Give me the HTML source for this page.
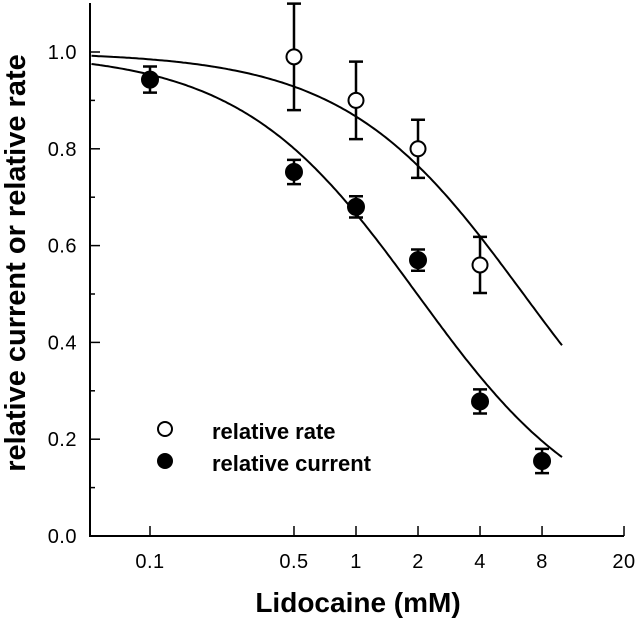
<!DOCTYPE html>
<html><head><meta charset="utf-8"><style>
body{margin:0;background:#fff}
svg text{font-family:"Liberation Sans",Arial,sans-serif;fill:#000}
</style></head><body>
<svg id="chart" width="640" height="623" xmlns="http://www.w3.org/2000/svg">
<g id="axes"></g><g id="curves"></g><g id="marks"></g>
<text transform="translate(25,263) rotate(-90)" text-anchor="middle" font-size="29" font-weight="bold">relative current or relative rate</text>
<text x="358" y="612" text-anchor="middle" font-size="28" font-weight="bold">Lidocaine (mM)</text>
<g>
<circle cx="165" cy="429" r="7" fill="#fff" stroke="#000" stroke-width="2"/>
<text x="212" y="439" font-size="22" font-weight="bold">relative rate</text>
<circle cx="165" cy="461" r="8" fill="#000"/>
<text x="212" y="471" font-size="22" font-weight="bold">relative current</text>
</g>
</svg>
<script>
const xTicks=[0.1,0.5,1,2,4,8,20];
const xTickLabels=["0.1","0.5","1","2","4","8","20"];
const yTicks=[0,0.2,0.4,0.6,0.8,1.0];
const yTickLabels=["0.0","0.2","0.4","0.6","0.8","1.0"];
const rateX=[0.5,1,2,4];
const rateY=[0.99,0.90,0.80,0.56];
const rateErr=[0.11,0.08,0.06,0.058];
const curX=[0.1,0.5,1,2,4,8];
const curY=[0.943,0.752,0.68,0.57,0.278,0.155];
const curErr=[0.027,0.025,0.022,0.022,0.025,0.025];
const rateFit=[6.5,1.0];
const curFit=[1.98,1.01];

const NS="http://www.w3.org/2000/svg";
const X0=90,XMAX=624,Y0=536;
function sx(v){return 356+206*Math.log10(v);}
function sy(v){return Y0-484*v;}
function mk(t,a,p){const e=document.createElementNS(NS,t);for(const k in a)e.setAttribute(k,a[k]);document.getElementById(p).appendChild(e);return e;}

let e=mk('path',{d:`M${X0},3 V${Y0} H${XMAX}`,fill:'none',stroke:'#000','stroke-width':2},'axes');


for(let i=1;i<=10;i+=2){const y=sy(i/10);
 e=mk('line',{x1:X0,x2:X0+5,y1:y,y2:y,stroke:'#000','stroke-width':1.5},'axes');
 
 }
yTicks.forEach((v,i)=>{const y=sy(v);
 e=mk('line',{x1:X0,x2:X0+10,y1:y,y2:y,stroke:'#000','stroke-width':1.5},'axes');
 
 
 e=mk('text',{x:77,y:y+7,'text-anchor':'end','font-size':20,'letter-spacing':'0.5'},'axes');e.textContent=yTickLabels[i];
 
 });
xTicks.forEach((v,i)=>{const x=sx(v);
 e=mk('line',{x1:x,x2:x,y1:Y0,y2:Y0-10,stroke:'#000','stroke-width':1.5},'axes');
 
 
 e=mk('text',{x:x,y:Y0+32,'text-anchor':'middle','font-size':20,'letter-spacing':'0.5'},'axes');e.textContent=xTickLabels[i];
 
 });
function curve(fit,name){let d='';const a=Math.log10(0.052),b=1;
 for(let i=0;i<=200;i++){const lv=a+(b-a)*i/200,v=Math.pow(10,lv);const y=1/(1+Math.pow(v/fit[0],fit[1]));
  d+=(i?'L':'M')+sx(v).toFixed(1)+','+sy(y).toFixed(1);}
 e=mk('path',{d:d,fill:'none',stroke:'#000','stroke-width':2},'curves');
 
 }
curve(rateFit,'fit-curve-rate');curve(curFit,'fit-curve-current');
function pts(xs,ys,es,open,name){xs.forEach((v,i)=>{const x=sx(v),y=sy(ys[i]),t=sy(ys[i]+es[i]),bo=sy(ys[i]-es[i]);
 e=mk('path',{d:`M${x},${t}V${bo}M${x-7},${t}H${x+7}M${x-7},${bo}H${x+7}`,stroke:'#000','stroke-width':2.5,fill:'none'},'marks');
 
 
 e=mk('circle',{cx:x,cy:y,r:open?7.5:8,fill:open?'#fff':'#000',stroke:'#000','stroke-width':2},'marks');
 
 });}
pts(rateX,rateY,rateErr,true,'rate');pts(curX,curY,curErr,false,'current');
</script>
</body></html>
